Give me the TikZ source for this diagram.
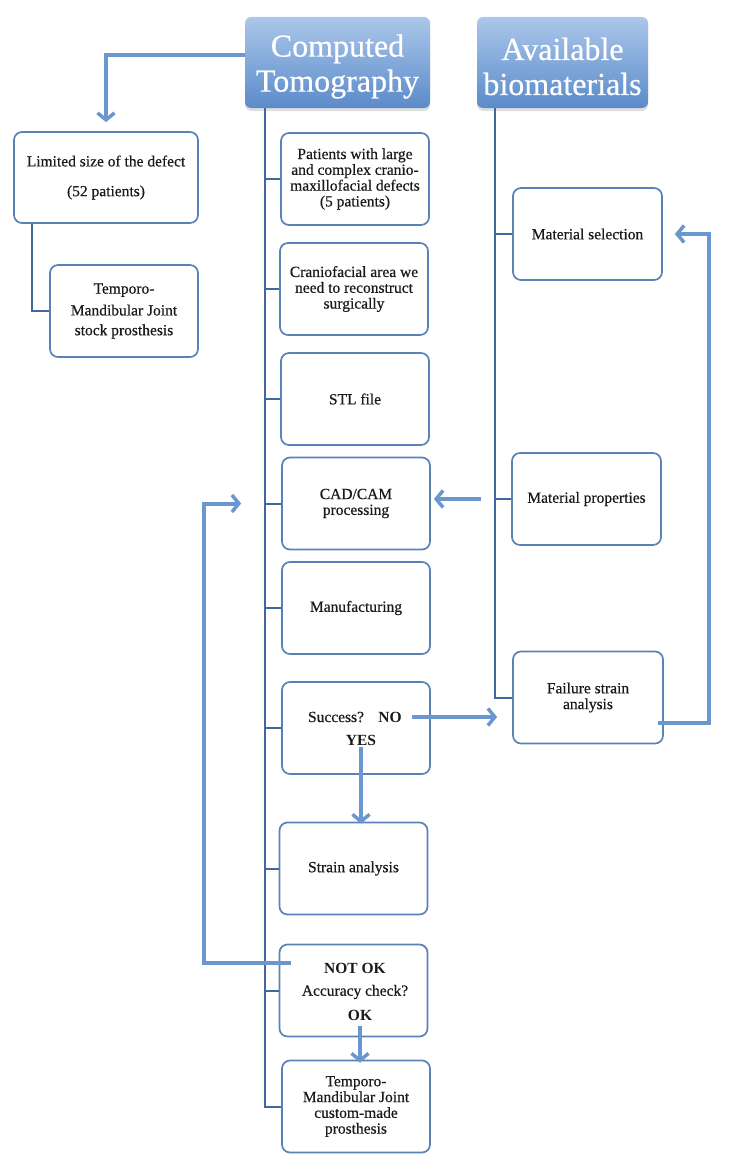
\documentclass[tikz,border=0pt]{standalone}
\usepackage{fontspec}
\setmainfont{Liberation Serif}
\newfontfamily\boxfont{Liberation Serif}[FakeBold=0.5]
\usetikzlibrary{arrows.meta,shadows}
\definecolor{boxline}{HTML}{5A82B6}
\definecolor{trunkc}{HTML}{41679E}
\definecolor{arrc}{HTML}{6A97CE}
\definecolor{hdtop}{HTML}{ABC7EA}
\definecolor{hdbot}{HTML}{5B8BCA}
\definecolor{txt}{HTML}{1A1A1A}
\begin{document}
\begin{tikzpicture}[x=1pt,y=-1pt,
  box/.style={draw=boxline,line width=1.7pt,rounded corners=8pt,fill=white,align=center,text=txt,
    font=\boxfont\fontsize{15.5}{15.8}\selectfont,inner sep=0pt,minimum width=148pt,minimum height=92pt},
  header/.style={rounded corners=6pt,top color=hdtop,bottom color=hdbot,inner sep=0pt,minimum height=91pt,
    drop shadow={opacity=0.25,shadow xshift=0pt,shadow yshift=-3pt}},
  headtext/.style={text=white,align=center,font=\boxfont\fontsize{32}{35}\selectfont,inner sep=0pt,yshift=-4pt},
  lbl/.style={font=\boxfont\fontsize{15.5}{15.8}\selectfont,inner sep=0pt,text=txt},
  blbl/.style={font=\bfseries\fontsize{15.5}{15.8}\selectfont,inner sep=0pt,text=txt},
  conn/.style={draw=trunkc,line width=2pt},
  bigarrow/.style={draw=arrc,line width=4pt,-{Straight Barb[length=7pt,width=17pt,line width=3.5pt]}}]
\useasboundingbox (0,0) rectangle (732,1164);

% headers
\node[header,minimum width=185pt,label={[headtext]center:Computed\\Tomography}] (ct) at (337.5,62.5) {};
\node[header,minimum width=171pt,label={[headtext]center:Available\\biomaterials}] (bm) at (562.5,62.5) {};

% left column
\node[box,minimum width=184pt,minimum height=91pt] (lim) at (106,177.5) {Limited size of the defect\\[14pt](52 patients)};
\node[box,minimum height=92pt] (tmj) at (124,311) {Temporo-\\[6pt]Mandibular Joint\\[4pt]stock prosthesis};

% middle column
\node[box] (p1) at (355,179) {Patients with large\\and complex cranio-\\maxillofacial defects\\(5 patients)};
\node[box] (p2) at (354,289) {Craniofacial area we\\need to reconstruct\\surgically};
\node[box] (p3) at (355,399) {STL file};
\node[box] (cad) at (356,503.5) {CAD/CAM\\processing};
\node[box] (man) at (356,608) {Manufacturing};
\node[box] (suc) at (356,728) {};
\node[lbl] (sq) at (336,717) {Success?};
\node[blbl] (no) at (390,717) {NO};
\node[blbl] (yes) at (361,740) {YES};
\node[box] (sa) at (353.5,868.5) {Strain analysis};
\node[box] (acc) at (353.5,990.5) {};
\node[blbl] (nok) at (355,968) {NOT OK};
\node[lbl] (accq) at (355,992) {Accuracy check?};
\node[blbl] (ok) at (360,1015) {OK};
\node[box] (cm) at (356,1106.5) {Temporo-\\Mandibular Joint\\custom-made\\prosthesis};

% right column
\node[box,minimum width=149pt] (ms) at (587.5,234) {Material selection};
\node[box,minimum width=149pt] (mp) at (586.5,499) {Material properties};
\node[box,minimum width=150pt] (fs) at (588,697.5) {Failure strain\\analysis};

% trunks
\coordinate (ctt) at ([xshift=-72.5pt]ct.south);
\coordinate (bmt) at ([xshift=-67.5pt]bm.south);
\draw[conn] (ctt) |- (cm.west);
\foreach \n in {p1,p2,p3,cad,man,suc,sa,acc}
  \draw[conn] (ctt |- \n.west) -- (\n.west);
\draw[conn] (bmt) |- (fs.west);
\foreach \n in {ms,mp}
  \draw[conn] (bmt |- \n.west) -- (\n.west);
\draw[conn] ([xshift=-74pt]lim.south) |- (tmj.west);

% arrows
\draw[bigarrow,shorten >=9pt] ([yshift=7pt]ct.west) -| (lim.north);
\draw[bigarrow,shorten <=30pt,shorten >=3pt] (mp.west) -- (mp.west -| cad.east);
\draw[bigarrow,shorten >=15pt] ([xshift=10pt]no.east) -- (no.east -| fs.west);
\draw[bigarrow,shorten >=12pt] ([yshift=-25pt,xshift=-6pt]fs.east) -- ++(51,0) |- (ms.east);
\draw[bigarrow,shorten <=2pt,shorten >=-2pt] (yes.south) -- (yes.south |- sa.north);
\draw[bigarrow,shorten <=6pt,shorten >=-3pt] (ok.south) -- (ok.south |- cm.north);
\draw[bigarrow,shorten >=40pt] ([xshift=-33pt,yshift=5pt]nok.west) -- ++(-87,0) |- (cad.west);
\end{tikzpicture}
\end{document}
